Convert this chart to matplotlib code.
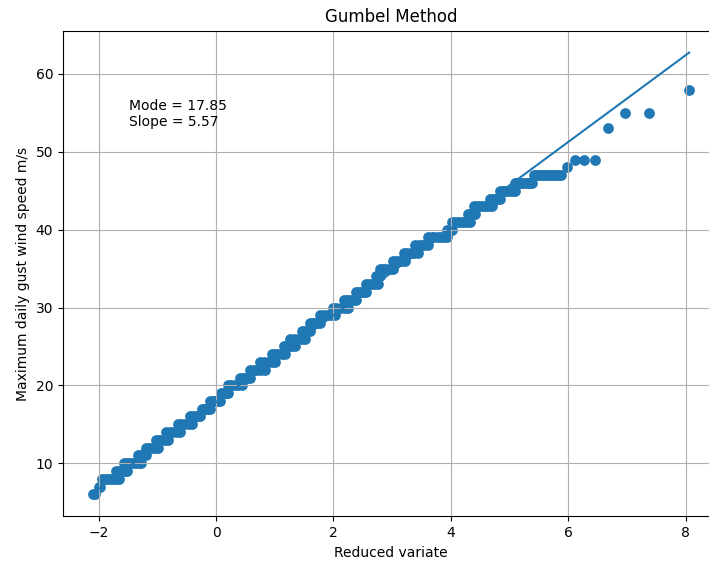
import numpy as np
import matplotlib
matplotlib.use("Agg")
import matplotlib.pyplot as plt

# values
mode = 17.85
slope = 5.57

# reduced variate positions of the plotted points, grouped by wind speed (m/s)
speed_levels = {
    6: [-2.10, -2.07],
    7: [-2.00, -1.97],
    8: [-1.94, -1.89, -1.84, -1.79, -1.74, -1.69, -1.66],
    9: [-1.70, -1.65, -1.60, -1.55, -1.52],
    10: [-1.57, -1.52, -1.47, -1.42, -1.37, -1.32, -1.28],
    11: [-1.33, -1.28, -1.23, -1.19],
    12: [-1.19, -1.14, -1.09, -1.04, -0.99],
    13: [-1.02, -0.97, -0.92, -0.87, -0.82],
    14: [-0.85, -0.79, -0.73, -0.67, -0.61],
    15: [-0.65, -0.59, -0.53, -0.47, -0.41],
    16: [-0.44, -0.39, -0.35, -0.31, -0.27],
    17: [-0.24, -0.20, -0.17, -0.13, -0.10],
    18: [-0.10, -0.06, -0.02, 0.03, 0.07],
    19: [0.09, 0.12, 0.15, 0.18, 0.21],
    20: [0.20, 0.26, 0.32, 0.38, 0.44],
    21: [0.41, 0.46, 0.50, 0.54, 0.58],
    22: [0.58, 0.64, 0.70, 0.76, 0.83],
    23: [0.75, 0.81, 0.88, 0.95, 1.01],
    24: [0.95, 1.01, 1.06, 1.12, 1.18],
    25: [1.16, 1.21, 1.25, 1.30, 1.35],
    26: [1.26, 1.32, 1.39, 1.46, 1.52],
    27: [1.47, 1.51, 1.54, 1.57, 1.60],
    28: [1.60, 1.65, 1.69, 1.73, 1.77],
    29: [1.77, 1.84, 1.90, 1.96, 2.03],
    30: [1.99, 2.05, 2.12, 2.19, 2.25],
    31: [2.18, 2.23, 2.28, 2.34, 2.39],
    32: [2.39, 2.44, 2.48, 2.52, 2.56],
    33: [2.56, 2.61, 2.66, 2.71, 2.76],
    34: [2.73, 2.76, 2.79],
    35: [2.79, 2.85, 2.90, 2.96, 3.02],
    36: [3.02, 3.07, 3.12, 3.17, 3.22],
    37: [3.20, 3.26, 3.32, 3.38, 3.44],
    38: [3.39, 3.45, 3.50, 3.55, 3.61],
    39: [3.61, 3.67, 3.72, 3.78, 3.83, 3.89, 3.94],
    40: [3.94, 3.98, 4.02],
    41: [4.02, 4.07, 4.12, 4.17, 4.22, 4.28, 4.33],
    42: [4.29, 4.32, 4.35, 4.38, 4.41],
    43: [4.40, 4.45, 4.50, 4.55, 4.60, 4.65, 4.70],
    44: [4.67, 4.71, 4.75, 4.80, 4.84],
    45: [4.84, 4.88, 4.92, 4.96, 5.00, 5.05, 5.09],
    46: [5.09, 5.13, 5.17, 5.21, 5.25, 5.29, 5.32, 5.35, 5.38],
    47: [5.41, 5.45, 5.49, 5.53, 5.57, 5.61, 5.65, 5.69, 5.73, 5.77, 5.80, 5.84, 5.88],
    48: [5.98],
    49: [6.12, 6.27, 6.46],
    53: [6.67],
    55: [6.96, 7.38],
    58: [8.06],
}

variate = []
speed = []
for s, xs in speed_levels.items():
    for x in xs:
        variate.append(x)
        speed.append(s)
variate = np.array(variate)
speed = np.array(speed)

line_x = np.array([variate.min(), variate.max()])
line_y = mode + slope * line_x

fig = plt.figure(figsize=(7.09, 5.62), dpi=100)
ax = fig.add_axes([0.0889, 0.0811, 0.9252, 0.8646])
ax.scatter(variate, speed, s=45)
ax.plot(line_x, line_y)
ax.text(-1.48, 56.8, "Mode = %.2f\nSlope = %.2f" % (mode, slope), va="top")
ax.set_title("Gumbel Method")
ax.set_xlabel("Reduced variate")
ax.set_ylabel("Maximum daily gust wind speed m/s")
ax.grid(True)
fig.savefig("out.png", dpi=100)
